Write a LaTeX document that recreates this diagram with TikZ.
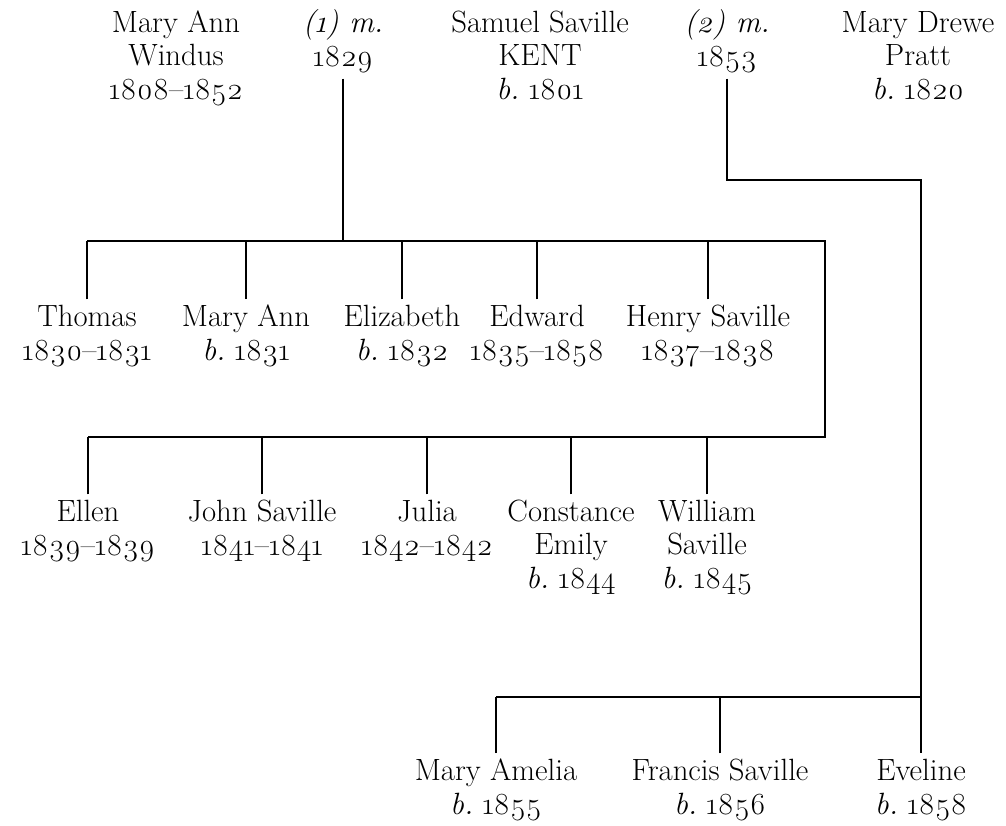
\documentclass[tikz,border=0pt]{standalone}
\usepackage{fontspec}
\setmainfont{Latin Modern Roman}[Numbers=OldStyle]

\begin{document}
\begin{tikzpicture}[x=0.02cm, y=-0.02cm,
    person/.style={align=center, anchor=base, inner sep=0pt, outer sep=3.5pt,
        font=\fontsize{17.5}{18.8}\selectfont},
    line/.style={line width=1.4pt}]
    \useasboundingbox (0,0) rectangle (1006,825);

    % Parents and marriages (placed by the baseline of their last line)
    \node[person] (windus) at (176,99) {Mary Ann\\Windus\\1808--1852};
    \node[person] (m1) at (343,66) {\textit{(1) m.}\\1829};
    \node[person] (kent) at (540,99) {Samuel Saville\\KENT\\\textit{b.}\ 1801};
    \node[person] (m2) at (727,66) {\textit{(2) m.}\\1853};
    \node[person] (pratt) at (918,99) {Mary Drewe\\Pratt\\\textit{b.}\ 1820};

    % First family
    \node[person] (thomas) at (87,360) {Thomas\\1830--1831};
    \node[person] (maryann) at (246,360) {Mary Ann\\\textit{b.}\ 1831};
    \node[person] (elizabeth) at (402,360) {Elizabeth\\\textit{b.}\ 1832};
    \node[person] (edward) at (537,360) {Edward\\1835--1858};
    \node[person] (henry) at (708,360) {Henry Saville\\1837--1838};

    \node[person] (ellen) at (88,555) {Ellen\\1839--1839};
    \node[person] (john) at (262,555) {John Saville\\1841--1841};
    \node[person] (julia) at (427,555) {Julia\\1842--1842};
    \node[person] (constance) at (571,588) {Constance\\Emily\\\textit{b.}\ 1844};
    \node[person] (william) at (707,588) {William\\Saville\\\textit{b.}\ 1845};

    % Second family
    \node[person] (amelia) at (496,814) {Mary Amelia\\\textit{b.}\ 1855};
    \node[person] (francis) at (720,814) {Francis Saville\\\textit{b.}\ 1856};
    \node[person] (eveline) at (921,814) {Eveline\\\textit{b.}\ 1858};

    % Lines of descent
    \coordinate (r1) at (825,241);
    \coordinate (r2) at (825,437);
    \coordinate (k2) at (921,180);
    \coordinate (r3) at (921,697);

    \draw[line] (m1.south) -- (m1.south |- r1);
    \draw[line] (thomas.north |- r1) -- (r1) -- (r2) -- (ellen.north |- r2);
    \foreach \c in {thomas,maryann,elizabeth,edward,henry}
        \draw[line] (\c.north) -- (\c.north |- r1);
    \foreach \c in {ellen,john,julia,constance,william}
        \draw[line] (\c.north) -- (\c.north |- r2);

    \draw[line] (m2.south) |- (k2) -- (eveline.north);
    \draw[line] (amelia.north |- r3) -- (r3);
    \foreach \c in {amelia,francis}
        \draw[line] (\c.north) -- (\c.north |- r3);

\end{tikzpicture}
\end{document}
